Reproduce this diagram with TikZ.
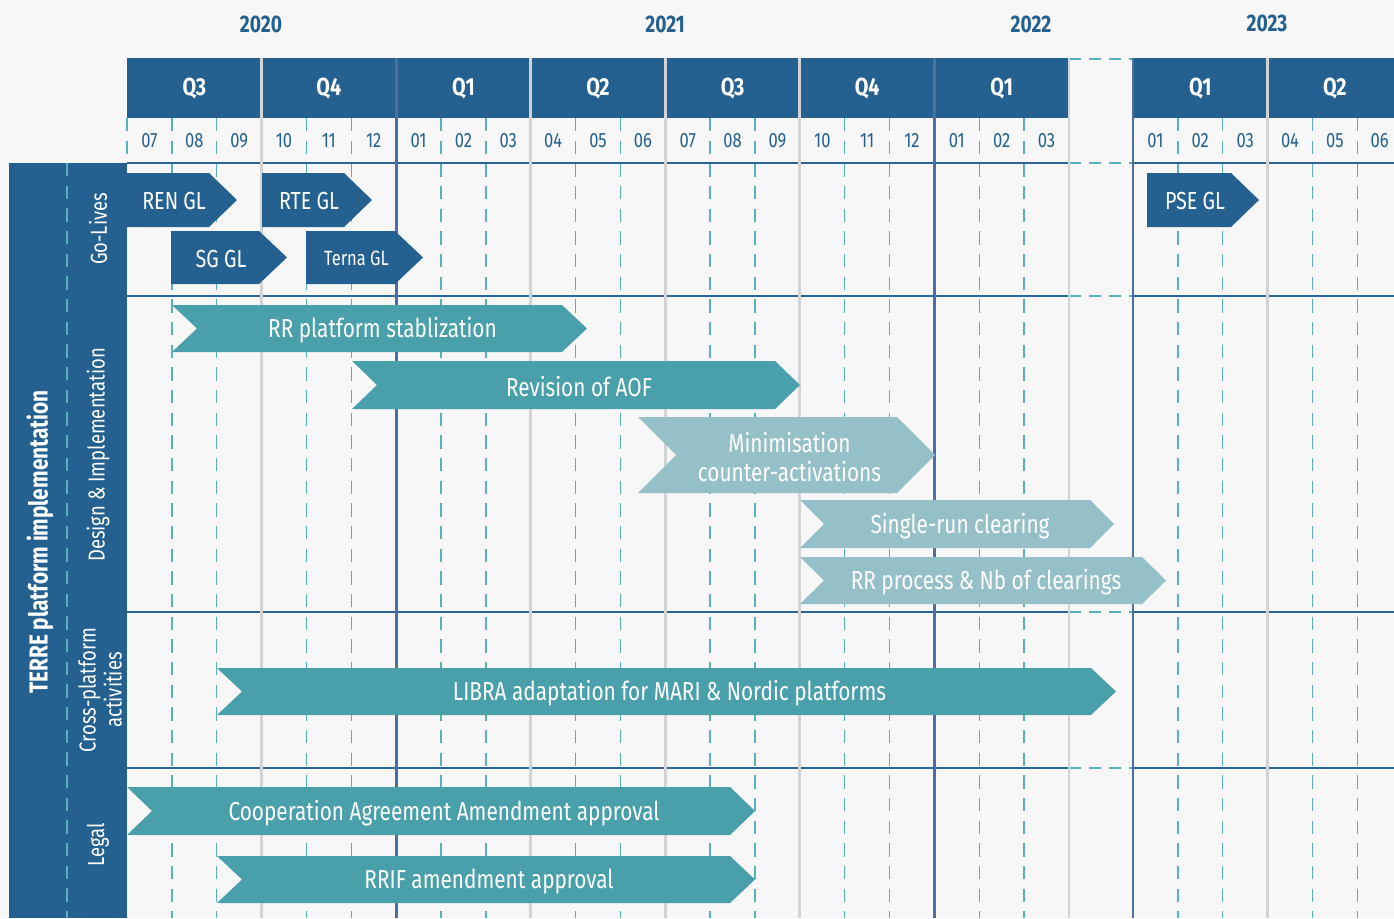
\documentclass[tikz,border=0pt]{standalone}
\usepackage{fontspec}
\setmainfont{Fira Sans}[FakeStretch=0.8]

\begin{document}
\begin{tikzpicture}[x=0.75pt, y=-0.75pt]
    % Define grid scale (one unit is one pixel of the chart)
    \def\monthWidth{44.857}
    \def\startA{127}
    \def\startB{1133}

    \definecolor{bgColour}{HTML}{F7F7F7}
    \definecolor{headColour}{HTML}{246190}
    \definecolor{rowColour}{HTML}{2A6593}
    \definecolor{yearColour}{HTML}{4D6F9C}
    \definecolor{quarterColour}{HTML}{D2D3D5}
    \definecolor{dashColour}{HTML}{5AAFBD}
    \definecolor{phaseColour}{HTML}{4AA0AA}
    \definecolor{paleColour}{HTML}{96C0C7}

    \tikzset{
        monthTick/.style={dashColour, line width=1.1pt, dash pattern=on 10pt off 7pt},
        quarterLine/.style={quarterColour, line width=2.2pt},
        yearLine/.style={yearColour, line width=2.2pt},
        rowLine/.style={rowColour, line width=2.2pt},
        yearText/.style={text=headColour, font=\fontsize{18}{21}\selectfont\bfseries},
        quarterText/.style={text=white, font=\fontsize{18.5}{21}\selectfont\bfseries},
        monthText/.style={text=headColour, font=\fontsize{15.5}{18}\selectfont},
        liveText/.style={text=white, font=\fontsize{18.5}{21}\selectfont},
        phaseText/.style={text=white, align=center, font=\fontsize{19.5}{21.75}\selectfont},
        rowText/.style={text=white, rotate=90, align=center, font=\fontsize{17.3}{19.5}\selectfont}
    }

    % Go-live arrow: name, left, tip, top, bottom, label, extra style
    \def\golive#1#2#3#4#5#6#7{%
        \fill[headColour] (#2,#4) -- ({#3-28},#4) -- (#3,{(#4+#5)/2}) -- ({#3-28},#5) -- (#2,#5) -- cycle;
        \node[liveText, #7] (#1) at ({(#2+#3)/2-8},{(#4+#5)/2+1}) {#6};
    }
    % Phase chevron: name, left, tip, top, bottom, depth, colour, label
    \def\phase#1#2#3#4#5#6#7#8{%
        \fill[#7] (#2,#4) -- ({#3-#6},#4) -- (#3,{(#4+#5)/2}) -- ({#3-#6},#5) -- (#2,#5) -- ({#2+#6},{(#4+#5)/2}) -- cycle;
        \node[phaseText] (#1) at ({(#2+#3)/2+3},{(#4+#5)/2+2}) {#8};
    }

    % Background
    \useasboundingbox[fill=bgColour] (0,0) rectangle (1394,918);

    % Draw quarter header boxes
    \fill[headColour] (\startA,58) rectangle (1069,118);
    \fill[headColour] (\startB,58) rectangle (1394,118);

    % Draw month ticks
    \foreach \k in {1,2,4,5,7,8,10,11,13,14,16,17,19,20}
        \draw[monthTick] ({\startA+\k*\monthWidth},118) -- ({\startA+\k*\monthWidth},918);
    \foreach \k in {1,2,4,5}
        \draw[monthTick] ({\startB+\k*\monthWidth},118) -- ({\startB+\k*\monthWidth},918);
    \draw[monthTick] (\startA,118) -- (\startA,163);

    % Draw gap between 2022 and 2023
    \foreach \y in {59,163,296,612,768}
        \draw[monthTick, dash pattern=on 9pt off 6pt] (1069,\y) -- (\startB,\y);

    % Draw row separators
    \foreach \y in {163,296,612,768} {
        \draw[rowLine] (\startA,\y) -- (1069,\y);
        \draw[rowLine] (\startB,\y) -- (1394,\y);
    }

    % Draw quarter and year lines
    \foreach \k in {3,9,12,15,21}
        \draw[quarterLine] ({\startA+\k*\monthWidth},58) -- ({\startA+\k*\monthWidth},918);
    \draw[quarterLine] ({\startB+3*\monthWidth},58) -- ({\startB+3*\monthWidth},918);
    \foreach \k in {6,18}
        \draw[yearLine] ({\startA+\k*\monthWidth},58) -- ({\startA+\k*\monthWidth},918);
    \draw[yearLine] (\startB,58) -- (\startB,918);

    % Label years
    \node[yearText] (y2020) at (261,24) {2020};
    \node[yearText] (y2021) at (665,24) {2021};
    \node[yearText] (y2022) at (1031,24) {2022};
    \node[yearText] (y2023) at (1267,23) {2023};

    % Label quarters
    \foreach \q [count=\i from 0] in {Q3,Q4,Q1,Q2,Q3,Q4,Q1}
        \node[quarterText] (qa\i) at ({\startA+(3*\i+1.5)*\monthWidth},88.5) {\q};
    \foreach \q [count=\i from 0] in {Q1,Q2}
        \node[quarterText] (qb\i) at ({\startB+(3*\i+1.5)*\monthWidth},88.5) {\q};

    % Label months
    \foreach \m [count=\i from 0] in {07,08,09,10,11,12,01,02,03,04,05,06,07,08,09,10,11,12,01,02,03}
        \node[monthText] (ma\i) at ({\startA+(\i+0.5)*\monthWidth},140.5) {\m};
    \foreach \m [count=\i from 0] in {01,02,03,04,05,06}
        \node[monthText] (mb\i) at ({\startB+(\i+0.5)*\monthWidth},140.5) {\m};

    % Draw side panel
    \fill[headColour] (9,163) rectangle (\startA,918);
    \draw[monthTick] (67,163) -- (67,918);
    \node[rowText, font=\fontsize{19.5}{22}\selectfont\bfseries] (title) at (40,542) {TERRE platform implementation};
    \node[rowText] (goLives) at (98,229) {Go-Lives};
    \node[rowText] (design) at (98,455) {Design \& Implementation};
    \node[rowText] (cross) at (100,690) {Cross-platform\\activities};
    \node[rowText] (legal) at (98,845) {Legal};

    % Go-lives
    \golive{ren}{127}{237}{173}{227}{REN GL}{}
    \golive{rte}{262}{372}{173}{227}{RTE GL}{}
    \golive{sg}{171}{287}{231}{284}{SG GL}{}
    \golive{terna}{306}{423}{231}{284}{Terna GL}{font=\fontsize{15.5}{18}\selectfont}
    \golive{pse}{1147}{1259}{173}{227}{PSE GL}{}

    % Design & implementation
    \phase{rrPlatform}{172}{587}{305}{352}{25}{phaseColour}{RR platform stablization}
    \phase{aof}{352}{800}{361}{409}{25}{phaseColour}{Revision of AOF}
    \phase{minimisation}{638}{935}{417}{493}{38}{paleColour}{Minimisation\\counter-activations}
    \phase{singleRun}{800}{1114}{500}{548}{24}{paleColour}{Single-run clearing}
    \phase{rrProcess}{800}{1166}{557}{604}{24}{paleColour}{RR process \& Nb of clearings}

    % Cross-platform activities
    \phase{libra}{217}{1116}{668}{715}{25}{phaseColour}{LIBRA adaptation for MARI \& Nordic platforms}

    % Legal
    \phase{cooperation}{127}{755}{787}{835}{25}{phaseColour}{Cooperation Agreement Amendment approval}
    \phase{rrif}{217}{755}{856}{903}{25}{phaseColour}{RRIF amendment approval}

\end{tikzpicture}
\end{document}
